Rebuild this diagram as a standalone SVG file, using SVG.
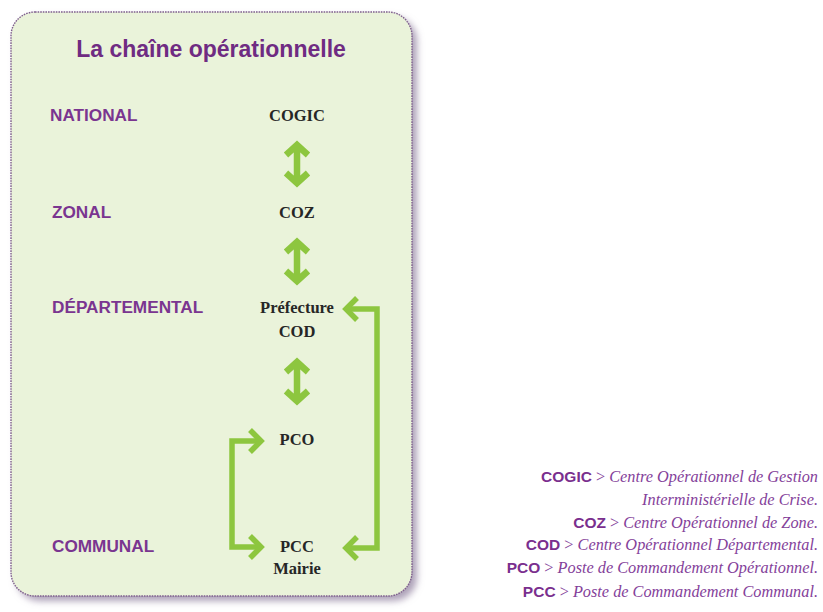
<svg xmlns="http://www.w3.org/2000/svg" width="823" height="612" viewBox="0 0 823 612">
<defs>
<filter id="sh" x="-10%" y="-10%" width="125%" height="125%">
<feDropShadow dx="5" dy="5" stdDeviation="3.5" flood-color="#8a7a9a" flood-opacity="0.7"/>
</filter>
<style>
.title{font-family:"Liberation Sans",Arial,sans-serif;font-weight:bold;font-size:23px;fill:#6f2b82}
.lvl{font-family:"Liberation Sans",Arial,sans-serif;font-weight:bold;font-size:17.2px;fill:#7a3590}
.node{font-family:"Liberation Serif","Times New Roman",serif;font-weight:bold;font-size:16.5px;fill:#262626;text-anchor:middle}
.leg{font-family:"Liberation Serif","Times New Roman",serif;font-size:16.3px;fill:#84419a;text-anchor:end}
.ab{font-family:"Liberation Sans",Arial,sans-serif;font-weight:bold;font-size:15.5px;fill:#7a2f8e}
.it{font-style:italic}
.arr{fill:none;stroke:#8dc63f;stroke-width:5.5;stroke-linecap:butt;stroke-linejoin:miter}
.dbl{fill:none;stroke:#8dc63f;stroke-width:6.5;stroke-linejoin:miter}
</style>
</defs>
<rect width="823" height="612" fill="#ffffff"/>
<g id="card">
<rect x="11" y="12" width="401" height="584" rx="24" ry="24" fill="#eaf3da" filter="url(#sh)"/>
<rect x="11" y="12" width="401" height="584" rx="24" ry="24" fill="none" stroke="#7f5f8e" stroke-width="1.4" stroke-dasharray="1.6 1"/>
</g>
<text class="title" x="211" y="57" text-anchor="middle">La chaîne opérationnelle</text>
<g id="levels">
<text class="lvl" x="50" y="121">NATIONAL</text>
<text class="lvl" x="52" y="218">ZONAL</text>
<text class="lvl" x="52" y="313">DÉPARTEMENTAL</text>
<text class="lvl" x="52" y="552">COMMUNAL</text>
</g>
<g id="n-cogic"><text class="node" x="297" y="121">COGIC</text></g>
<g id="n-coz"><text class="node" x="297" y="218">COZ</text></g>
<g id="n-cod"><text class="node" x="297" y="313">Préfecture</text><text class="node" x="297" y="337">COD</text></g>
<g id="n-pco"><text class="node" x="297" y="445">PCO</text></g>
<g id="n-pcc"><text class="node" x="297" y="552">PCC</text><text class="node" x="297" y="574">Mairie</text></g>
<g id="connectors">
<path class="dbl" d="M286 155 L297 145 L308 155 M297 146 V182 M286 173 L297 183 L308 173"/>
<path class="dbl" d="M286 252 L297 242 L308 252 M297 243 V280 M286 271 L297 281 L308 271"/>
<path class="dbl" d="M286 372 L297 362 L308 372 M297 363 V400 M286 391 L297 401 L308 391"/>
<path class="arr" d="M345 309 H377 V548 H345"/>
<path class="arr" d="M357 298 L346 309 L357 320"/>
<path class="arr" d="M357 537 L346 548 L357 559"/>
<path class="arr" d="M262 441 H232 V547 H262"/>
<path class="arr" d="M250 430 L261 441 L250 452"/>
<path class="arr" d="M250 536 L261 547 L250 558"/>
</g>
<g id="legend">
<text class="leg" x="818" y="482"><tspan class="ab">COGIC</tspan> &gt; <tspan class="it">Centre Opérationnel de Gestion</tspan></text>
<text class="leg it" x="818" y="505">Interministérielle de Crise.</text>
<text class="leg" x="818" y="528"><tspan class="ab">COZ</tspan> &gt; <tspan class="it">Centre Opérationnel de Zone.</tspan></text>
<text class="leg" x="818" y="550"><tspan class="ab">COD</tspan> &gt; <tspan class="it">Centre Opérationnel Départemental.</tspan></text>
<text class="leg" x="818" y="573"><tspan class="ab">PCO</tspan> &gt; <tspan class="it">Poste de Commandement Opérationnel.</tspan></text>
<text class="leg" x="818" y="597"><tspan class="ab">PCC</tspan> &gt; <tspan class="it">Poste de Commandement Communal.</tspan></text>
</g>
</svg>
